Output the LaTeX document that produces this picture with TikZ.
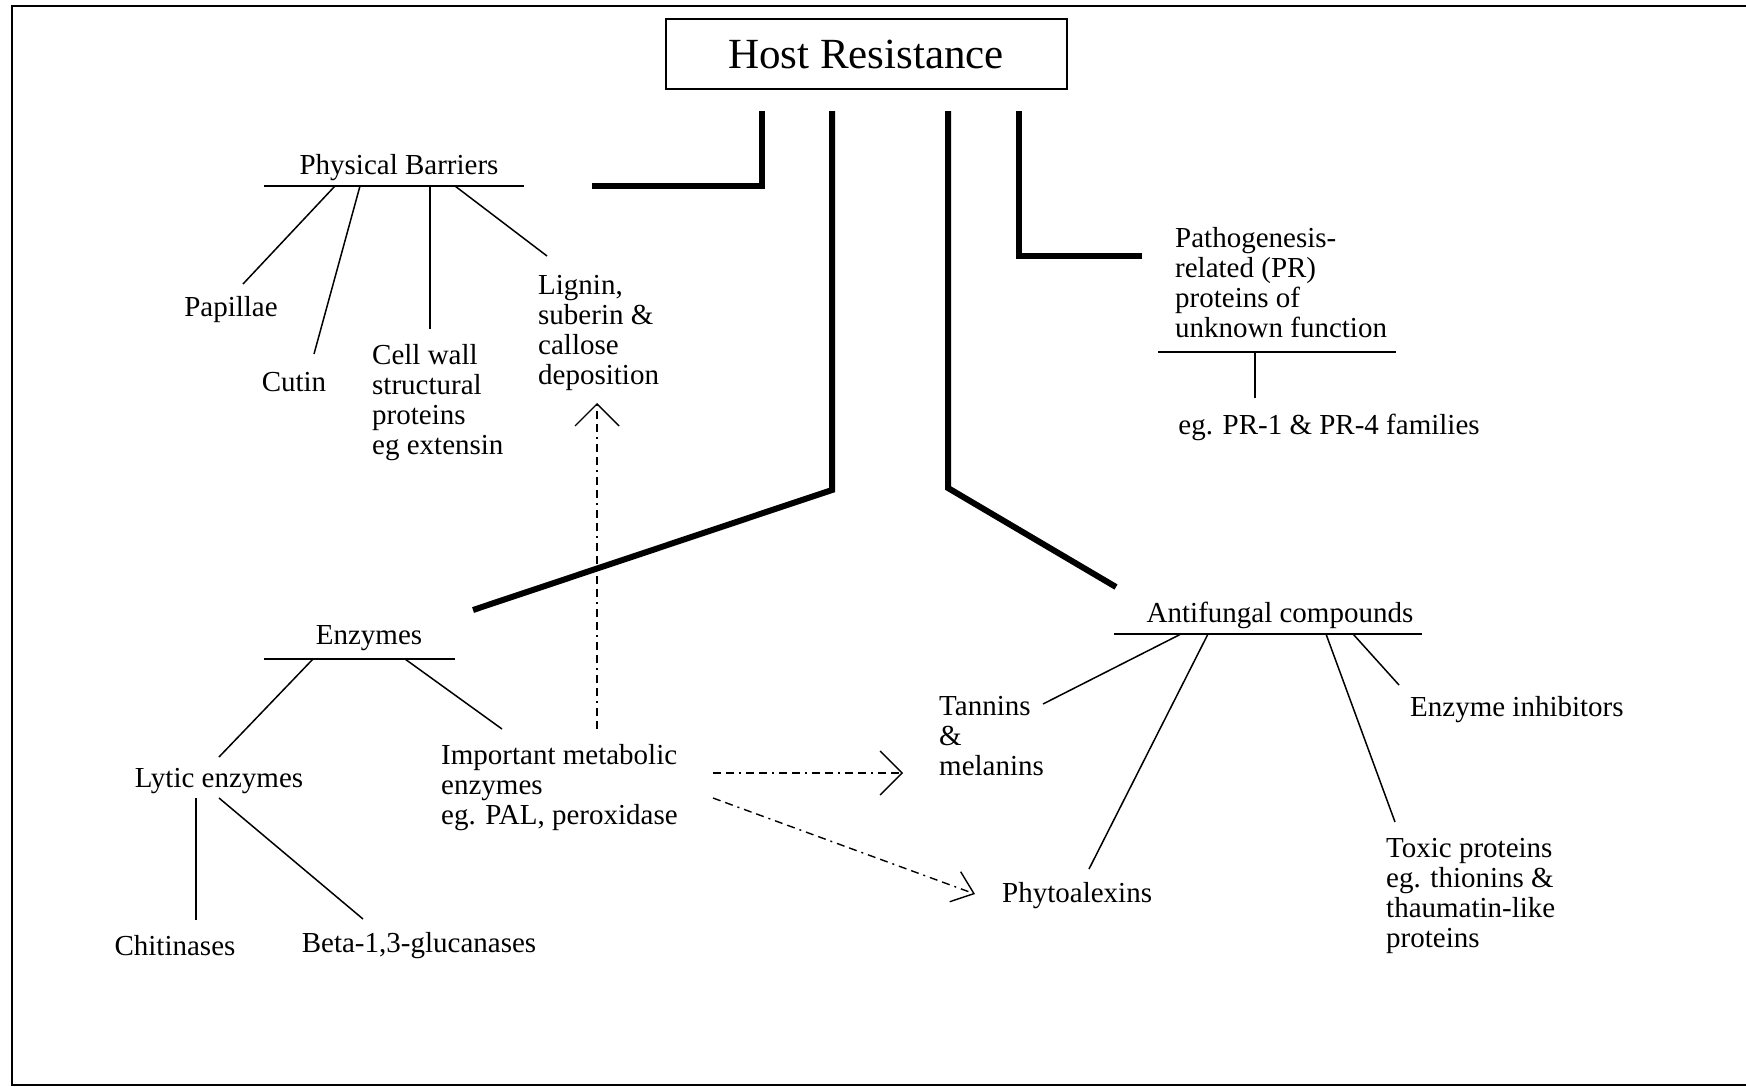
\documentclass[tikz,border=0pt]{standalone}
\usepackage{fontspec}
\setmainfont{Liberation Serif}
\usetikzlibrary{arrows.meta}
\begin{document}
\begin{tikzpicture}[x=1pt,y=-1pt,
  lbl/.style={font=\fontsize{29}{30}\selectfont, inner sep=0pt, align=left},
  trunk/.style={line width=6pt, line join=miter},
  twig/.style={line width=1.5pt},
  dasharrow/.style={line width=1.4pt, dash pattern=on 8pt off 5pt on 8pt off 5pt on 2pt off 5pt,
     -{Straight Barb[length=22pt,width=44pt]}},
]
\useasboundingbox (0,0) rectangle (1746,1087);
% frame
\coordinate (fr1) at (1746,6);
\coordinate (fr2) at (12,6);
\coordinate (fr3) at (12,1085);
\coordinate (fr4) at (1746,1085);
\draw[line width=2pt] (fr1) -- (fr2) -- (fr3) -- (fr4);

% root
\node[draw, line width=2pt, minimum width=401pt, minimum height=70pt, inner sep=0pt,
      font=\fontsize{43}{45}\selectfont] (host) at (866,54) {Host Resistance};

% trunks
\coordinate (t1a) at (762,111);  \coordinate (t1b) at (592,186);
\coordinate (t2a) at (832,111);  \coordinate (t2k) at (832,490); \coordinate (t2b) at (473,610);
\coordinate (t3a) at (948,111);  \coordinate (t3k) at (948,488); \coordinate (t3b) at (1116,587);
\coordinate (t4a) at (1019,111); \coordinate (t4b) at (1142,256);
\draw[trunk] (t1a) |- (t1b);
\draw[trunk] (t2a) -- (t2k) -- (t2b);
\draw[trunk] (t3a) -- (t3k) -- (t3b);
\draw[trunk] (t4a) |- (t4b);

% Physical barriers
\node[lbl] (pb) at (399,168) {Physical Barriers};
\coordinate (pbL) at (264,186); \coordinate (pbR) at (524,186);
\draw[twig] (pbL) -- (pbR);
\node[lbl] (pap) at (231,310) {Papillae};
\node[lbl] (cut) at (294,382) {Cutin};
\node[lbl, anchor=north west] (cw) at (372,344) {Cell wall\\structural\\proteins\\eg extensin};
\node[lbl, anchor=north west] (lig) at (538,275) {Lignin,\\suberin \&\\callose\\deposition};
\coordinate (pb1) at (335,186); \coordinate (pap1) at (243,284);
\coordinate (pb2) at (360,186); \coordinate (cut1) at (314,354);
\coordinate (pb3) at (430,186); \coordinate (cw1) at (430,329);
\coordinate (pb4) at (455,186); \coordinate (lig1) at (547,256);
\draw[twig] (pb1) -- (pap1);
\draw[twig] (pb2) -- (cut1);
\draw[twig] (pb3) -- (cw1);
\draw[twig] (pb4) -- (lig1);

% PR proteins
\node[lbl, anchor=north west] (pr) at (1175,227) {Pathogenesis-\\related (PR)\\proteins of\\unknown function};
\coordinate (prL) at (1158,352); \coordinate (prR) at (1396,352);
\draw[twig] (prL) -- (prR);
\node[lbl] (prex) at (1329,427) {eg. PR-1 \& PR-4 families};
\coordinate (pr1) at (1255,352); \coordinate (pr2) at (1255,398);
\draw[twig] (pr1) -- (pr2);

% Enzymes
\node[lbl] (enz) at (369,638) {Enzymes};
\coordinate (enL) at (264,659); \coordinate (enR) at (455,659);
\draw[twig] (enL) -- (enR);
\node[lbl] (lyt) at (219,781) {Lytic enzymes};
\node[lbl, anchor=north west] (imp) at (441,744) {Important metabolic\\enzymes\\eg. PAL, peroxidase};
\coordinate (en1) at (313,659); \coordinate (lyt1) at (219,757);
\coordinate (en2) at (405,659); \coordinate (imp1) at (502,729);
\draw[twig] (en1) -- (lyt1);
\draw[twig] (en2) -- (imp1);
\node[lbl] (chi) at (175,946) {Chitinases};
\node[lbl] (bet) at (419,946) {Beta-1,3-glucanases};
\coordinate (ly1) at (196,798); \coordinate (chi1) at (196,920);
\coordinate (ly2) at (219,798); \coordinate (bet1) at (363,919);
\draw[twig] (ly1) -- (chi1);
\draw[twig] (ly2) -- (bet1);

% Antifungal compounds
\node[lbl] (af) at (1280,615) {Antifungal compounds};
\coordinate (afL) at (1114,634); \coordinate (afR) at (1422,634);
\draw[twig] (afL) -- (afR);
\node[lbl, anchor=north west] (tan) at (939,696) {Tannins\\\&\\melanins};
\node[lbl, anchor=west] (phy) at (1002,896) {Phytoalexins};
\node[lbl, anchor=west] (ein) at (1410,710) {Enzyme inhibitors};
\node[lbl, anchor=north west] (tox) at (1386,838) {Toxic proteins\\eg. thionins \&\\thaumatin-like\\proteins};
\coordinate (af1) at (1181,634); \coordinate (tan1) at (1043,704);
\coordinate (af2) at (1208,634); \coordinate (phy1) at (1089,869);
\coordinate (af3) at (1326,634); \coordinate (tox1) at (1395,822);
\coordinate (af4) at (1353,634); \coordinate (ein1) at (1399,685);
\draw[twig] (af1) -- (tan1);
\draw[twig] (af2) -- (phy1);
\draw[twig] (af3) -- (tox1);
\draw[twig] (af4) -- (ein1);

% dashed arrows
\coordinate (da0) at (597,729); \coordinate (da1) at (597,403);
\draw[dasharrow] (da0) -- (da1);
\coordinate (db0) at (713,773); \coordinate (db1) at (903,773);
\draw[dasharrow] (db0) -- (db1);
\coordinate (dc0) at (713,798); \coordinate (dc1) at (975,894);
\draw[dasharrow, -{Straight Barb[length=20pt,width=32pt]}] (dc0) -- (dc1);
\end{tikzpicture}
\end{document}
